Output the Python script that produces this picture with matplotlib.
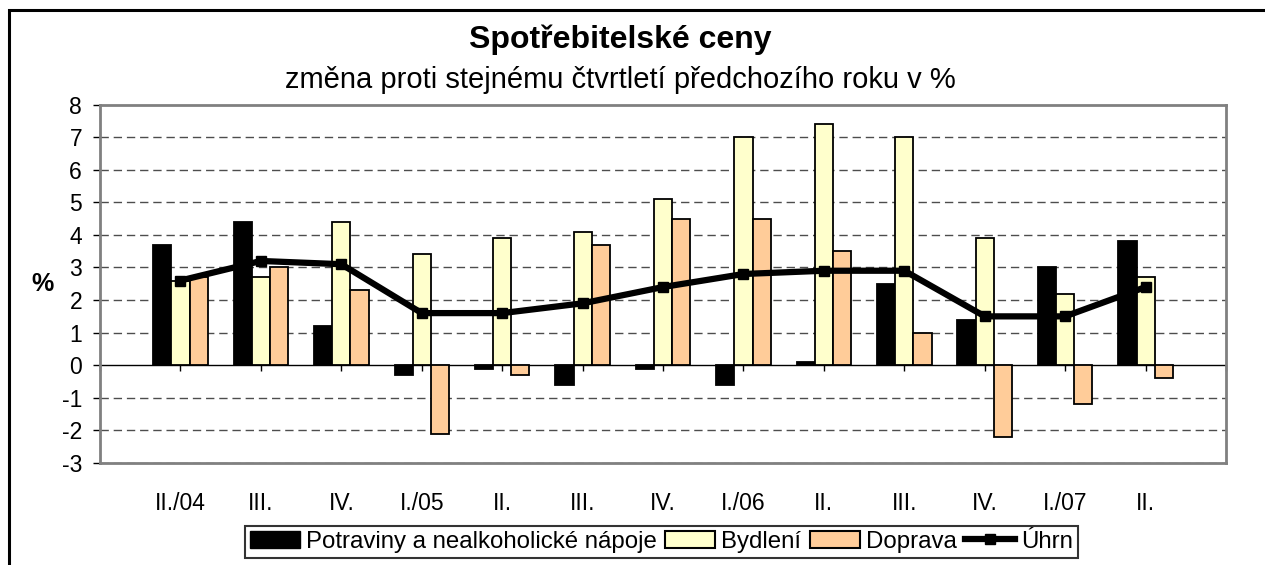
import matplotlib
matplotlib.use('Agg')
import matplotlib.pyplot as plt
from matplotlib.patches import Rectangle
from matplotlib.lines import Line2D
import numpy as np

plt.rcParams['font.family'] = ['Liberation Sans', 'DejaVu Sans']
plt.rcParams['axes.unicode_minus'] = False

quarters = ['II./04', 'III.', 'IV.', 'I./05', 'II.', 'III.', 'IV.',
            'I./06', 'II.', 'III.', 'IV.', 'I./07', 'II.']
potraviny = [3.7, 4.4, 1.2, -0.3, -0.1, -0.6, -0.1, -0.6, 0.1, 2.5, 1.4, 3.0, 3.8]
bydleni = [2.6, 2.7, 4.4, 3.4, 3.9, 4.1, 5.1, 7.0, 7.4, 7.0, 3.9, 2.2, 2.7]
doprava = [2.7, 3.0, 2.3, -2.1, -0.3, 3.7, 4.5, 4.5, 3.5, 1.0, -2.2, -1.2, -0.4]
uhrn = [2.6, 3.2, 3.1, 1.6, 1.6, 1.9, 2.4, 2.8, 2.9, 2.9, 1.5, 1.5, 2.4]

fig = plt.figure(figsize=(12.65, 5.65), dpi=100)
ax = fig.add_axes([0.0791, 0.1805, 0.8901, 0.6345])

x = np.arange(len(quarters))
w = 0.226
ax.bar(x - w, potraviny, w, color='black', edgecolor='black', lw=1.3, zorder=3)
ax.bar(x, bydleni, w, color='#FFFFCC', edgecolor='black', lw=1.3, zorder=3)
ax.bar(x + w, doprava, w, color='#FFCC99', edgecolor='black', lw=1.3, zorder=3)
ax.plot(x, uhrn, color='black', lw=4.5, marker='s', ms=7, zorder=4)

ax.set_xlim(-1, 13)
ax.set_ylim(-3, 8)
ax.set_yticks(range(-3, 9))
ax.set_xticks(x)
ax.set_xticklabels(quarters, fontsize=16.5)
ax.tick_params(axis='x', length=0, pad=21)
ax.tick_params(axis='y', direction='out', length=5, width=1, pad=8, labelsize=16.5)

for v in range(-3, 8):
    if v != 0:
        ax.axhline(v, color='0.3', lw=1, ls=(0, (6, 3.5)), zorder=1)

for s in ax.spines.values():
    s.set_color('#808080')
    s.set_linewidth(2)

# zero line with small category ticks
sec = ax.secondary_xaxis(3 / 11)
sec.set_xticks(range(-1, 14))
sec.tick_params(direction='out', length=4.5, width=1, labelbottom=False,
                labeltop=False, color='black')
for s in sec.spines.values():
    s.set_color('black')
    s.set_linewidth(1)

fig.text(43 / 1265, 1 - 284 / 565, '%', ha='center', va='center',
         fontsize=18, fontweight='bold')

fig.text(0.4905, 1 - 40 / 565, 'Spotřebitelské ceny', ha='center', va='center',
         fontsize=23, fontweight='bold')
fig.text(0.4905, 1 - 80 / 565, 'změna proti stejnému čtvrtletí předchozího roku v %',
         ha='center', va='center', fontsize=21)

handles = [Rectangle((0, 0), 1, 1, fc='black', ec='black'),
           Rectangle((0, 0), 1, 1, fc='#FFFFCC', ec='black', lw=1.5),
           Rectangle((0, 0), 1, 1, fc='#FFCC99', ec='black', lw=1.5),
           Line2D([], [], color='black', lw=4.5, marker='s', ms=7)]
labels = ['Potraviny a nealkoholické nápoje', 'Bydlení', 'Doprava', 'Úhrn']
leg = fig.legend(handles, labels, loc='upper center', bbox_to_anchor=(0.523, 0.069),
                 ncol=4, fontsize=17.3, frameon=True, fancybox=False,
                 handlelength=2.08, handleheight=0.72, handletextpad=0.25,
                 columnspacing=0.35, borderpad=0.2, borderaxespad=0)
leg.get_frame().set_edgecolor('black')
leg.get_frame().set_linewidth(1.5)

fig.patches.append(Rectangle((9 / 1265, -0.2), 1.2, 1.2 - 10 / 565,
                             transform=fig.transFigure, fill=False,
                             ec='black', lw=2.2, zorder=0))

fig.savefig('out.png', dpi=100)
